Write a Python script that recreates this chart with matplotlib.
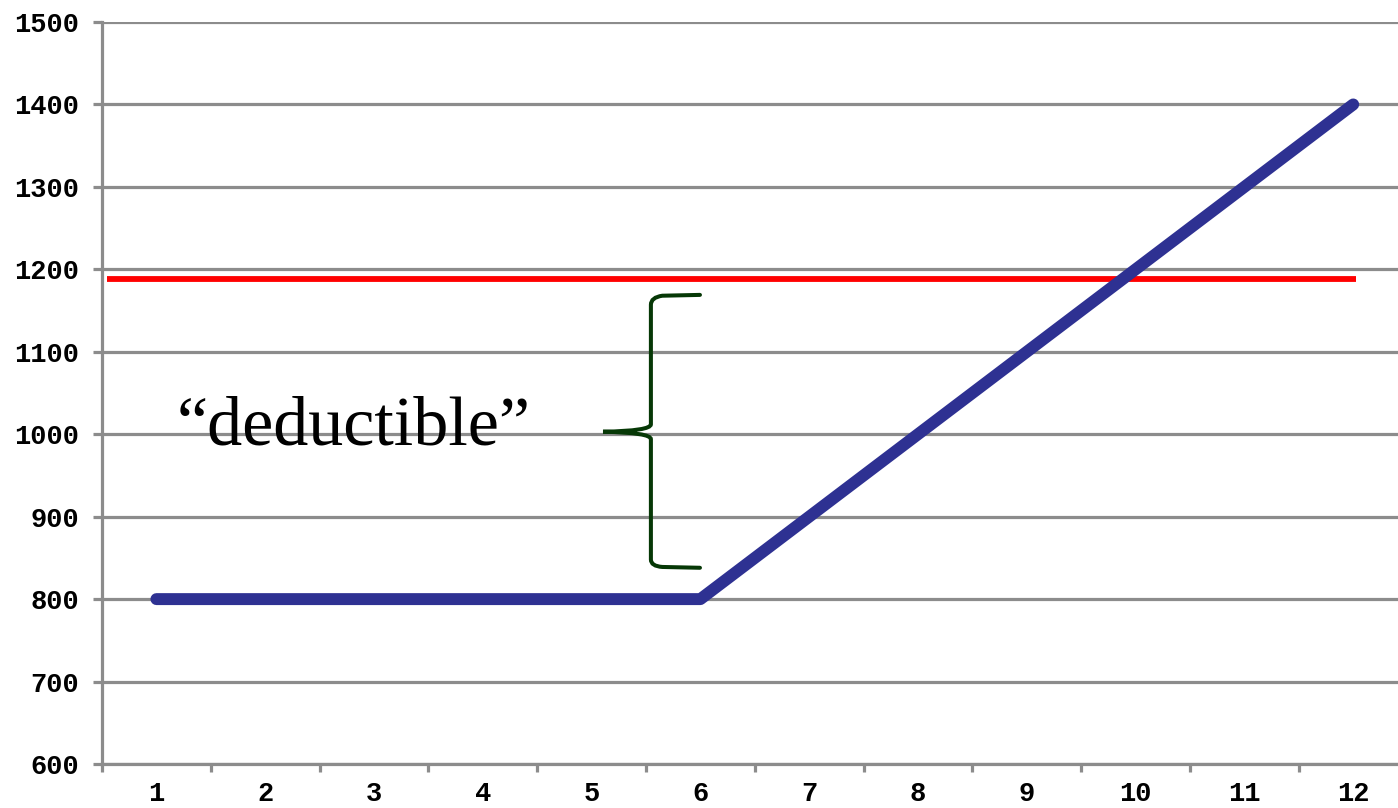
import matplotlib
matplotlib.use("Agg")
import matplotlib.pyplot as plt
from matplotlib.path import Path
from matplotlib.patches import PathPatch

# ---- data ----
categories = [1, 2, 3, 4, 5, 6, 7, 8, 9, 10, 11, 12]
values = [800, 800, 800, 800, 800, 800, 900, 1000, 1100, 1200, 1300, 1400]
threshold = 1188
y_ticks = [600, 700, 800, 900, 1000, 1100, 1200, 1300, 1400, 1500]
x_labels = [str(c) for c in categories]
annotation_text = "\u201cdeductible\u201d"

W, H = 1398, 808
fig = plt.figure(figsize=(W / 100, H / 100), dpi=100)
left, right, top, bottom = 102, 1407.6, 22, 764
ax = fig.add_axes([left / W, (H - bottom) / H, (right - left) / W, (bottom - top) / H])

grid_c = "#8c8c8c"
ax.set_xlim(0.5, 12.5)
ax.set_ylim(600, 1500)
ax.set_yticks(y_ticks)
ax.yaxis.grid(True, color=grid_c, linewidth=2.3, zorder=0)
ax.set_axisbelow(True)

for s in ["top", "right"]:
    ax.spines[s].set_visible(False)
ax.spines["left"].set_color(grid_c)
ax.spines["left"].set_linewidth(2.3)
ax.spines["bottom"].set_color(grid_c)
ax.spines["bottom"].set_linewidth(2.3)

tickfont = dict(family="Liberation Mono", weight="bold", size=19.5)
ax.tick_params(axis="y", length=6.5, width=2.3, color=grid_c, pad=10)
ax.set_yticklabels([str(v) for v in y_ticks], **tickfont)

# x: ticks at category boundaries, labels at centers
ax.set_xticks([c + 0.5 for c in [0] + categories])
ax.set_xticklabels([])
ax.tick_params(axis="x", which="major", length=6, width=2.3, color=grid_c, direction="out")
ax.set_xticks(categories, minor=True)
ax.set_xticklabels(x_labels, minor=True, **tickfont)
ax.tick_params(axis="x", which="minor", length=0, pad=12)

# lines
ax.plot([0.55, 12.03], [threshold, threshold], color="#ff0000", linewidth=4.2,
        solid_capstyle="butt", zorder=3)
ax.plot(categories, values, color="#2e3192", linewidth=8.6,
        solid_capstyle="round", solid_joinstyle="round", zorder=4)

# brace annotation
xv, xa, xt, xc = 5.545, 5.996, 5.105, 5.65
verts = [
    (xa, 1169), (xc, 1168),
    (xv, 1166), (xv, 1157),
    (xv, 1012),
    (xv, 1004), (xt, 1003),
    (xv, 1002), (xv, 994),
    (xv, 848),
    (xv, 840), (xc, 839),
    (xa, 838),
]
codes = [Path.MOVETO, Path.LINETO,
         Path.CURVE3, Path.CURVE3,
         Path.LINETO,
         Path.CURVE3, Path.CURVE3,
         Path.CURVE3, Path.CURVE3,
         Path.LINETO,
         Path.CURVE3, Path.CURVE3,
         Path.LINETO]
ax.add_patch(PathPatch(Path(verts, codes), facecolor="none", edgecolor="#063806",
                       linewidth=2.9, capstyle="round", zorder=5))

ax.text(2.816, 987, annotation_text, family="Liberation Serif", size=50.5,
        ha="center", va="baseline", color="black", zorder=6)

fig.savefig("out.png", dpi=100)
